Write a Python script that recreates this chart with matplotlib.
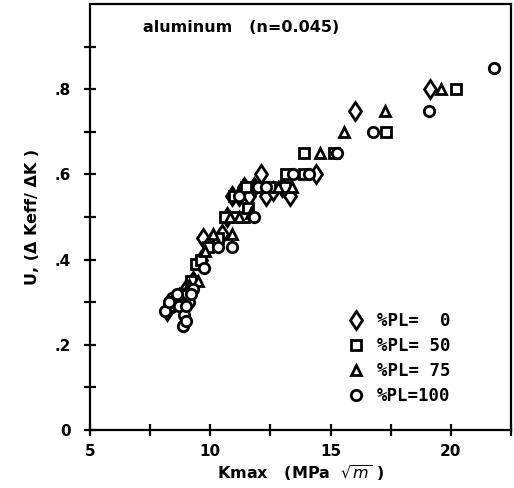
import matplotlib
matplotlib.use("Agg")
import matplotlib.pyplot as plt
from matplotlib.ticker import FixedLocator, FuncFormatter

# ---- data ----
pl0_x = [8.2, 8.5, 8.8, 9.0, 9.3, 9.6, 9.7, 10.0, 10.5, 10.7, 10.9, 11.2, 11.4,
         11.6, 11.8, 12.1, 12.3, 12.6, 13.0, 13.3, 14.4, 16.0, 19.15]
pl0_y = [0.28, 0.30, 0.31, 0.33, 0.35, 0.40, 0.45, 0.44, 0.46, 0.50, 0.55, 0.55, 0.57,
         0.55, 0.57, 0.60, 0.55, 0.56, 0.57, 0.55, 0.60, 0.75, 0.80]

pl50_x = [8.3, 8.6, 8.9, 9.2, 9.4, 9.6, 9.9, 10.3, 10.6, 11.0, 11.4, 11.55, 11.0,
          11.5, 12.0, 12.5, 13.1, 13.15, 13.9, 13.9, 15.15, 17.3, 20.2]
pl50_y = [0.29, 0.31, 0.32, 0.35, 0.39, 0.40, 0.43, 0.45, 0.50, 0.50, 0.50, 0.52, 0.55,
          0.57, 0.57, 0.57, 0.57, 0.60, 0.60, 0.65, 0.65, 0.70, 0.80]

pl75_x = [8.4, 8.7, 9.1, 9.5, 9.8, 10.1, 10.9, 10.8, 11.2, 11.7, 12.2, 12.8, 13.4,
          14.55, 15.55, 17.25, 19.6]
pl75_y = [0.30, 0.32, 0.34, 0.35, 0.42, 0.46, 0.46, 0.50, 0.50, 0.51, 0.57, 0.57, 0.57,
          0.65, 0.70, 0.75, 0.80]

pl100_x = [8.1, 8.4, 8.7, 8.9, 8.85, 9.0, 9.1, 9.3, 9.75, 10.3, 10.9, 11.8, 11.2,
           12.0, 12.3, 13.45, 14.1, 15.25, 16.75, 19.1, 21.8, 8.3, 8.6, 9.0, 9.2]
pl100_y = [0.28, 0.31, 0.29, 0.27, 0.245, 0.255, 0.30, 0.33, 0.38, 0.43, 0.43, 0.50, 0.55,
           0.57, 0.57, 0.60, 0.60, 0.65, 0.70, 0.75, 0.85, 0.30, 0.32, 0.29, 0.32]

labels = ["%PL=  0", "%PL= 50", "%PL= 75", "%PL=100"]

x_ticks = [5, 7.5, 10, 12.5, 15, 17.5, 20, 22.5]
x_labeled = [5, 10, 15, 20]
y_ticks = [0, 0.1, 0.2, 0.3, 0.4, 0.5, 0.6, 0.7, 0.8, 0.9]
y_labeled = {0: "0", 0.2: ".2", 0.4: ".4", 0.6: ".6", 0.8: ".8"}

title_text = "aluminum   (n=0.045)"

# ---- figure ----
fig = plt.figure(figsize=(5.14, 4.88), dpi=100)
ax = fig.add_axes([90 / 514, 58 / 488, 421 / 514, 426 / 488])

mk = dict(linestyle="none", markerfacecolor="white", markeredgecolor="black",
          markeredgewidth=2.0)
ax.plot(pl0_x, pl0_y, marker="d", markersize=9.5, label=labels[0], **mk)
ax.plot(pl50_x, pl50_y, marker="s", markersize=7, label=labels[1], **mk)
ax.plot(pl75_x, pl75_y, marker="^", markersize=7.5, label=labels[2], **mk)
ax.plot(pl100_x, pl100_y, marker="o", markersize=7.5, label=labels[3], **mk)

ax.set_xlim(5, 22.5)
ax.set_ylim(0, 1.0)

for s in ax.spines.values():
    s.set_linewidth(1.6)

ax.xaxis.set_major_locator(FixedLocator(x_ticks))
ax.yaxis.set_major_locator(FixedLocator(y_ticks))
ax.xaxis.set_major_formatter(FuncFormatter(
    lambda v, p: f"{int(v)}" if any(abs(v - t) < 1e-6 for t in x_labeled) else ""))


def yfmt(v, p):
    for k, lab in y_labeled.items():
        if abs(v - k) < 1e-6:
            return lab
    return ""


ax.yaxis.set_major_formatter(FuncFormatter(yfmt))
ax.tick_params(direction="inout", length=8, width=1.6, labelsize=11)
ax.tick_params(axis="y", pad=10)
ax.tick_params(axis="x", pad=6)
for lab in ax.get_xticklabels() + ax.get_yticklabels():
    lab.set_fontweight("bold")

ax.set_xlabel(r"Kmax   (MPa  $\sqrt{m}$ )", fontsize=11.5, fontweight="bold", labelpad=3)
ax.set_ylabel("U, (Δ Keff/ ΔK )", fontsize=11.5, fontweight="bold", labelpad=10)

ax.text(0.125, 0.945, title_text, transform=ax.transAxes, fontsize=11.5,
        fontweight="bold", ha="left", va="center")

leg = ax.legend(loc="upper left", bbox_to_anchor=(0.59, 0.297), frameon=False,
                handlelength=1.0, handletextpad=0.7, borderpad=0, labelspacing=0.4,
                numpoints=1, prop=dict(family="DejaVu Sans Mono", weight="bold", size=12.5))

fig.savefig("out.png", dpi=100)
